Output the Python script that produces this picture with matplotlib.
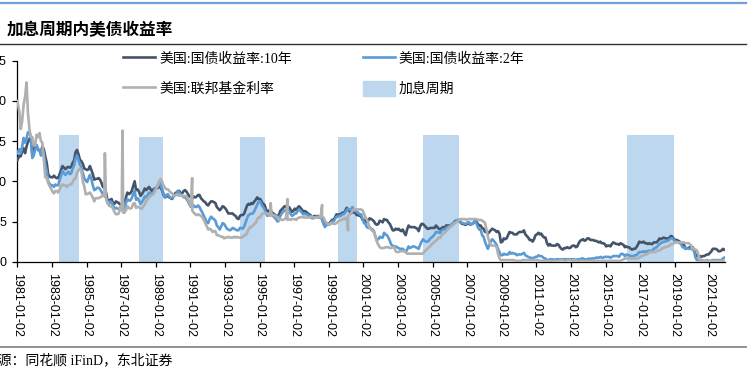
import pandas as pd
import matplotlib
matplotlib.use('Agg')
import matplotlib.pyplot as plt
import matplotlib.dates as mdates
from matplotlib.patches import Patch
from matplotlib.lines import Line2D

plt.rcParams['font.family'] = ['Noto Sans CJK SC', 'DejaVu Sans']

# monthly readings, 1981-01 .. 2021-11 (one row per year)
ust10y = [
    12.6, 13.2, 13.1, 13.7, 14.1, 13.5, 14.3, 14.9, 15.3, 15.2, 13.4, 13.7,  # 1981
    14.6, 14.4, 13.9, 13.9, 13.6, 14.3, 14.0, 13.1, 12.3, 10.9, 10.6, 10.5,  # 1982
    10.5, 10.7, 10.5, 10.4, 10.4, 10.9, 11.4, 11.9, 11.7, 11.5, 11.7, 11.8,  # 1983
    11.7, 11.8, 12.3, 12.6, 13.6, 13.9, 13.4, 12.7, 12.5, 12.2, 11.6, 11.5,  # 1984
    11.4, 11.5, 11.9, 11.4, 10.9, 10.2, 10.3, 10.3, 10.4, 10.2, 9.8, 9.3,  # 1985
    9.2, 8.7, 7.8, 7.3, 7.7, 7.8, 7.3, 7.2, 7.5, 7.4, 7.3, 7.1,  # 1986
    7.1, 7.3, 7.3, 8.0, 8.6, 8.4, 8.5, 8.8, 9.4, 10.0, 8.9, 9.0,  # 1987
    8.7, 8.2, 8.4, 8.7, 9.1, 8.9, 9.1, 9.3, 9.0, 8.8, 9.0, 9.1,  # 1988
    9.1, 9.2, 9.4, 9.2, 8.9, 8.3, 8.0, 8.1, 8.2, 8.0, 7.9, 7.8,  # 1989
    8.2, 8.5, 8.6, 8.8, 8.8, 8.5, 8.5, 8.8, 8.9, 8.7, 8.4, 8.1,  # 1990
    8.1, 7.9, 8.1, 8.0, 8.1, 8.3, 8.3, 7.9, 7.7, 7.5, 7.4, 7.1,  # 1991
    7.0, 7.3, 7.5, 7.5, 7.4, 7.3, 6.8, 6.6, 6.4, 6.6, 6.9, 6.8,  # 1992
    6.6, 6.3, 6.0, 6.0, 6.0, 6.0, 5.8, 5.7, 5.4, 5.3, 5.7, 5.8,  # 1993
    5.8, 6.0, 6.5, 7.0, 7.2, 7.1, 7.3, 7.2, 7.5, 7.7, 8.0, 7.8,  # 1994
    7.8, 7.5, 7.2, 7.1, 6.6, 6.2, 6.3, 6.5, 6.2, 6.0, 5.9, 5.7,  # 1995
    5.7, 5.8, 6.3, 6.5, 6.7, 6.9, 6.9, 6.6, 6.8, 6.5, 6.2, 6.3,  # 1996
    6.6, 6.4, 6.7, 6.9, 6.7, 6.5, 6.2, 6.3, 6.2, 6.0, 5.9, 5.8,  # 1997
    5.5, 5.6, 5.7, 5.6, 5.7, 5.5, 5.5, 5.3, 4.8, 4.5, 4.8, 4.7,  # 1998
    4.7, 5.0, 5.2, 5.2, 5.5, 5.9, 5.8, 5.9, 5.9, 6.1, 6.0, 6.3,  # 1999
    6.7, 6.5, 6.3, 6.0, 6.4, 6.1, 6.1, 5.8, 5.8, 5.7, 5.7, 5.2,  # 2000
    5.2, 5.1, 4.9, 5.1, 5.4, 5.3, 5.2, 5.0, 4.7, 4.6, 4.7, 5.1,  # 2001
    5.0, 4.9, 5.3, 5.2, 5.2, 4.9, 4.7, 4.3, 3.9, 3.9, 4.1, 4.0,  # 2002
    4.1, 3.9, 3.8, 4.0, 3.6, 3.3, 4.0, 4.5, 4.3, 4.3, 4.3, 4.3,  # 2003
    4.2, 4.1, 3.8, 4.4, 4.7, 4.7, 4.5, 4.3, 4.1, 4.1, 4.2, 4.2,  # 2004
    4.2, 4.2, 4.5, 4.3, 4.1, 4.0, 4.2, 4.3, 4.2, 4.5, 4.5, 4.5,  # 2005
    4.4, 4.6, 4.7, 5.0, 5.1, 5.1, 5.1, 4.9, 4.7, 4.7, 4.6, 4.6,  # 2006
    4.8, 4.7, 4.6, 4.7, 4.8, 5.1, 5.0, 4.7, 4.5, 4.5, 4.2, 4.1,  # 2007
    3.7, 3.7, 3.5, 3.7, 3.9, 4.1, 4.0, 3.9, 3.7, 3.8, 3.5, 2.4,  # 2008
    2.5, 2.9, 2.8, 2.9, 3.3, 3.7, 3.6, 3.6, 3.4, 3.4, 3.4, 3.6,  # 2009
    3.7, 3.7, 3.7, 3.9, 3.4, 3.2, 3.0, 2.7, 2.7, 2.5, 2.8, 3.3,  # 2010
    3.4, 3.6, 3.4, 3.5, 3.2, 3.0, 3.0, 2.3, 2.0, 2.2, 2.0, 2.0,  # 2011
    2.0, 2.0, 2.2, 2.1, 1.8, 1.6, 1.5, 1.7, 1.7, 1.8, 1.7, 1.7,  # 2012
    1.9, 2.0, 2.0, 1.8, 1.9, 2.3, 2.6, 2.7, 2.8, 2.6, 2.7, 2.9,  # 2013
    2.9, 2.7, 2.7, 2.7, 2.6, 2.6, 2.5, 2.4, 2.5, 2.3, 2.3, 2.2,  # 2014
    1.9, 2.0, 2.0, 1.9, 2.2, 2.4, 2.3, 2.2, 2.2, 2.1, 2.3, 2.2,  # 2015
    2.1, 1.8, 1.9, 1.8, 1.8, 1.6, 1.5, 1.6, 1.6, 1.8, 2.1, 2.5,  # 2016
    2.4, 2.4, 2.5, 2.3, 2.3, 2.2, 2.3, 2.2, 2.2, 2.4, 2.4, 2.4,  # 2017
    2.6, 2.9, 2.8, 2.9, 3.0, 2.9, 2.9, 2.9, 3.0, 3.2, 3.1, 2.8,  # 2018
    2.7, 2.7, 2.6, 2.5, 2.4, 2.1, 2.1, 1.6, 1.7, 1.7, 1.8, 1.9,  # 2019
    1.8, 1.5, 0.9, 0.7, 0.7, 0.7, 0.6, 0.7, 0.7, 0.8, 0.9, 0.9,  # 2020
    1.1, 1.3, 1.6, 1.6, 1.6, 1.5, 1.3, 1.3, 1.4, 1.6, 1.5,  # 2021
]

ust2y = [
    13.5, 14.0, 13.5, 14.3, 15.4, 14.8, 15.3, 16.1, 16.2, 15.4, 12.9, 13.2,  # 1981
    14.0, 14.5, 13.9, 13.9, 13.2, 14.0, 13.4, 12.0, 11.3, 10.0, 9.7, 9.5,  # 1982
    9.5, 9.3, 9.6, 9.5, 9.5, 10.2, 10.7, 11.3, 11.0, 10.8, 11.0, 11.2,  # 1983
    10.9, 11.0, 11.6, 12.0, 12.8, 13.2, 12.7, 12.1, 11.7, 11.1, 10.4, 10.1,  # 1984
    9.9, 10.4, 10.8, 10.3, 9.5, 8.9, 9.0, 9.2, 9.2, 9.0, 8.7, 8.4,  # 1985
    8.4, 8.1, 7.4, 7.1, 7.5, 7.4, 7.0, 6.6, 6.7, 6.6, 6.6, 6.6,  # 1986
    6.4, 6.5, 6.5, 7.3, 7.8, 7.6, 7.6, 7.9, 8.4, 8.8, 7.7, 7.9,  # 1987
    7.6, 7.2, 7.4, 7.7, 8.1, 8.0, 8.3, 8.6, 8.5, 8.4, 8.6, 9.0,  # 1988
    9.2, 9.5, 9.9, 9.5, 9.1, 8.5, 8.0, 8.3, 8.4, 8.1, 7.9, 7.9,  # 1989
    8.1, 8.3, 8.5, 8.8, 8.6, 8.3, 8.2, 8.0, 8.0, 7.8, 7.5, 7.1,  # 1990
    6.8, 6.8, 7.0, 6.8, 6.8, 7.0, 6.8, 6.4, 6.1, 5.7, 5.3, 4.9,  # 1991
    4.8, 5.3, 5.6, 5.4, 5.3, 5.1, 4.5, 4.3, 4.0, 4.4, 4.8, 4.7,  # 1992
    4.4, 4.1, 4.0, 3.9, 4.0, 4.2, 4.1, 4.0, 3.9, 3.9, 4.2, 4.2,  # 1993
    4.1, 4.4, 4.9, 5.4, 5.8, 5.9, 6.0, 6.0, 6.3, 6.7, 7.1, 7.5,  # 1994
    7.5, 7.1, 6.8, 6.6, 6.1, 5.7, 5.8, 6.0, 5.8, 5.7, 5.5, 5.3,  # 1995
    5.0, 5.1, 5.7, 6.0, 6.2, 6.4, 6.5, 6.2, 6.3, 6.0, 5.7, 5.8,  # 1996
    6.0, 6.0, 6.3, 6.5, 6.3, 6.1, 5.9, 5.9, 5.9, 5.8, 5.7, 5.7,  # 1997
    5.4, 5.4, 5.5, 5.6, 5.6, 5.5, 5.5, 5.3, 4.7, 4.3, 4.6, 4.6,  # 1998
    4.6, 4.8, 5.0, 5.0, 5.3, 5.6, 5.6, 5.7, 5.7, 5.9, 5.9, 6.1,  # 1999
    6.4, 6.6, 6.5, 6.4, 6.8, 6.5, 6.3, 6.2, 6.1, 5.9, 5.9, 5.4,  # 2000
    4.8, 4.7, 4.3, 4.2, 4.3, 4.1, 4.0, 3.8, 3.1, 2.7, 2.8, 3.1,  # 2001
    3.0, 3.0, 3.6, 3.4, 3.3, 3.0, 2.6, 2.1, 2.0, 1.9, 1.9, 1.8,  # 2002
    1.7, 1.6, 1.6, 1.6, 1.4, 1.2, 1.5, 1.9, 1.7, 1.8, 1.9, 1.9,  # 2003
    1.8, 1.7, 1.6, 2.1, 2.5, 2.8, 2.6, 2.5, 2.5, 2.6, 2.9, 3.0,  # 2004
    3.2, 3.4, 3.7, 3.7, 3.6, 3.6, 3.9, 4.0, 4.0, 4.2, 4.3, 4.4,  # 2005
    4.5, 4.7, 4.8, 4.9, 5.0, 5.2, 5.2, 5.0, 4.8, 4.8, 4.7, 4.7,  # 2006
    4.9, 4.9, 4.6, 4.7, 4.8, 5.0, 4.8, 4.3, 4.0, 4.0, 3.3, 3.1,  # 2007
    2.5, 2.0, 1.6, 2.1, 2.5, 2.8, 2.6, 2.4, 2.1, 1.6, 1.2, 0.8,  # 2008
    0.8, 1.0, 0.9, 0.9, 0.9, 1.2, 1.0, 1.1, 1.0, 1.0, 0.8, 0.9,  # 2009
    0.9, 0.9, 1.0, 1.1, 0.8, 0.7, 0.6, 0.5, 0.5, 0.4, 0.5, 0.6,  # 2010
    0.6, 0.8, 0.7, 0.7, 0.6, 0.4, 0.4, 0.2, 0.2, 0.3, 0.3, 0.3,  # 2011
    0.2, 0.3, 0.3, 0.3, 0.3, 0.3, 0.3, 0.3, 0.3, 0.3, 0.3, 0.3,  # 2012
    0.3, 0.3, 0.3, 0.2, 0.3, 0.3, 0.3, 0.4, 0.4, 0.3, 0.3, 0.3,  # 2013
    0.4, 0.3, 0.4, 0.4, 0.4, 0.5, 0.5, 0.5, 0.6, 0.5, 0.5, 0.6,  # 2014
    0.6, 0.6, 0.6, 0.5, 0.6, 0.7, 0.7, 0.7, 0.7, 0.6, 0.9, 1.0,  # 2015
    0.9, 0.7, 0.9, 0.8, 0.8, 0.7, 0.7, 0.7, 0.8, 0.8, 1.0, 1.2,  # 2016
    1.2, 1.2, 1.3, 1.2, 1.3, 1.3, 1.4, 1.3, 1.4, 1.6, 1.7, 1.8,  # 2017
    2.0, 2.2, 2.3, 2.4, 2.5, 2.5, 2.6, 2.6, 2.8, 2.9, 2.9, 2.7,  # 2018
    2.5, 2.5, 2.4, 2.3, 2.2, 1.8, 1.8, 1.6, 1.7, 1.6, 1.6, 1.6,  # 2019
    1.5, 1.3, 0.5, 0.2, 0.2, 0.2, 0.2, 0.1, 0.1, 0.1, 0.2, 0.1,  # 2020
    0.1, 0.1, 0.2, 0.2, 0.2, 0.2, 0.2, 0.2, 0.2, 0.4, 0.5,  # 2021
]

fed_funds = [
    20.0, 18.6, 16.5, 17.5, 19.5, 20.5, 22.3, 18.5, 16.5, 15.5, 15.5, 14.5,  # 1981
    14.5, 15.8, 15.5, 16.0, 15.0, 14.8, 12.8, 10.5, 10.5, 9.8, 9.4, 9.1,  # 1982
    8.7, 8.5, 8.8, 8.8, 8.6, 9.0, 9.4, 9.6, 9.5, 9.5, 9.3, 9.5,  # 1983
    9.6, 9.6, 9.9, 10.3, 10.3, 11.1, 11.3, 11.6, 11.3, 10.0, 9.4, 8.4,  # 1984
    8.4, 8.5, 8.6, 8.3, 8.0, 7.5, 7.9, 7.9, 7.9, 8.0, 8.1, 8.3,  # 1985
    8.1, 7.9, 7.5, 7.0, 6.9, 6.9, 6.6, 6.2, 5.9, 5.9, 6.0, 6.9,  # 1986
    6.4, 6.1, 6.1, 6.4, 6.9, 6.7, 6.6, 6.7, 7.2, 7.3, 6.7, 6.8,  # 1987
    6.8, 6.6, 6.6, 6.9, 7.1, 7.5, 7.8, 8.0, 8.2, 8.3, 8.4, 8.8,  # 1988
    9.1, 9.4, 10.0, 10.3, 10.0, 9.5, 9.2, 9.0, 9.0, 8.8, 8.6, 8.5,  # 1989
    8.2, 8.2, 8.3, 8.3, 8.2, 8.3, 8.2, 8.1, 8.2, 8.1, 7.8, 7.3,  # 1990
    6.9, 6.3, 6.1, 5.9, 5.8, 5.9, 5.8, 5.7, 5.5, 5.2, 4.8, 4.4,  # 1991
    4.0, 4.1, 4.0, 3.7, 3.8, 3.8, 3.3, 3.3, 3.2, 3.1, 3.1, 2.9,  # 1992
    3.0, 3.0, 3.1, 3.0, 3.0, 3.0, 3.1, 3.0, 3.1, 3.0, 3.0, 3.0,  # 1993
    3.1, 3.3, 3.3, 3.6, 4.0, 4.3, 4.3, 4.5, 4.7, 4.8, 5.3, 5.5,  # 1994
    5.5, 5.9, 6.0, 6.1, 6.0, 6.0, 5.9, 5.7, 5.8, 5.8, 5.8, 5.6,  # 1995
    5.6, 5.2, 5.3, 5.2, 5.2, 5.3, 5.4, 5.2, 5.3, 5.2, 5.3, 5.3,  # 1996
    5.3, 5.2, 5.4, 5.5, 5.5, 5.6, 5.5, 5.5, 5.5, 5.5, 5.5, 5.5,  # 1997
    5.6, 5.5, 5.5, 5.5, 5.5, 5.6, 5.5, 5.6, 5.5, 5.1, 4.8, 4.7,  # 1998
    4.6, 4.8, 4.8, 4.7, 4.7, 4.8, 5.0, 5.1, 5.2, 5.2, 5.4, 5.3,  # 1999
    5.5, 5.7, 5.9, 6.0, 6.3, 6.5, 6.5, 6.5, 6.5, 6.5, 6.5, 6.4,  # 2000
    6.0, 5.5, 5.3, 4.8, 4.2, 4.0, 3.8, 3.7, 3.1, 2.5, 2.1, 1.8,  # 2001
    1.7, 1.7, 1.7, 1.8, 1.8, 1.8, 1.7, 1.7, 1.8, 1.8, 1.3, 1.2,  # 2002
    1.2, 1.3, 1.3, 1.3, 1.3, 1.2, 1.0, 1.0, 1.0, 1.0, 1.0, 1.0,  # 2003
    1.0, 1.0, 1.0, 1.0, 1.0, 1.0, 1.3, 1.4, 1.6, 1.8, 1.9, 2.2,  # 2004
    2.3, 2.5, 2.6, 2.8, 3.0, 3.0, 3.3, 3.5, 3.6, 3.8, 4.0, 4.2,  # 2005
    4.3, 4.5, 4.6, 4.8, 4.9, 5.0, 5.2, 5.3, 5.3, 5.3, 5.3, 5.2,  # 2006
    5.3, 5.3, 5.3, 5.3, 5.3, 5.3, 5.3, 5.2, 5.2, 5.2, 5.1, 5.0,  # 2007
    4.8, 4.0, 3.1, 2.5, 2.1, 2.0, 2.0, 2.0, 1.8, 1.0, 0.4, 0.2,  # 2008
    0.2, 0.2, 0.2, 0.2, 0.2, 0.2, 0.2, 0.2, 0.2, 0.1, 0.1, 0.1,  # 2009
    0.1, 0.1, 0.2, 0.2, 0.2, 0.2, 0.2, 0.2, 0.2, 0.2, 0.2, 0.2,  # 2010
    0.2, 0.2, 0.1, 0.1, 0.1, 0.1, 0.1, 0.1, 0.1, 0.1, 0.1, 0.1,  # 2011
    0.1, 0.1, 0.1, 0.1, 0.2, 0.2, 0.2, 0.1, 0.1, 0.2, 0.2, 0.2,  # 2012
    0.1, 0.2, 0.1, 0.2, 0.1, 0.1, 0.1, 0.1, 0.1, 0.1, 0.1, 0.1,  # 2013
    0.1, 0.1, 0.1, 0.1, 0.1, 0.1, 0.1, 0.1, 0.1, 0.1, 0.1, 0.1,  # 2014
    0.1, 0.1, 0.1, 0.1, 0.1, 0.1, 0.1, 0.1, 0.1, 0.1, 0.1, 0.2,  # 2015
    0.3, 0.4, 0.4, 0.4, 0.4, 0.4, 0.4, 0.4, 0.4, 0.4, 0.4, 0.5,  # 2016
    0.7, 0.7, 0.8, 0.9, 0.9, 1.0, 1.2, 1.2, 1.2, 1.2, 1.2, 1.3,  # 2017
    1.4, 1.4, 1.5, 1.7, 1.7, 1.8, 1.9, 1.9, 2.0, 2.2, 2.2, 2.3,  # 2018
    2.4, 2.4, 2.4, 2.4, 2.4, 2.4, 2.4, 2.3, 2.3, 2.3, 2.2, 2.0,  # 2019
    1.6, 1.6, 1.5, 1.4, 0.9, 0.1, 0.1, 0.1, 0.1, 0.1, 0.1, 0.1,  # 2020
    0.1, 0.1, 0.1, 0.1, 0.1, 0.1, 0.1, 0.1, 0.1, 0.1, 0.1,  # 2021
]

# single-day jumps in the fed funds line
ff_spike_dates = ['1986-01-25', '1987-02-01', '1991-02-10', '1995-08-25',
                  '1996-08-15', '1998-08-15', '2000-02-15']
ff_spike_vals = [13.5, 16.3, 10.4, 7.3, 7.8, 7.05, 3.9]

# rate hike periods
hike_start = ['1983-05-25', '1988-01-10', '1993-11-15', '1999-07-10', '2004-06-15', '2016-04-05']
hike_end = ['1984-07-25', '1989-06-15', '1995-04-20', '2000-08-25', '2006-07-15', '2018-12-10']
hike_top = [15.7, 15.55, 15.5, 15.55, 15.75, 15.75]

tick_years = list(range(1981, 2022, 2))

W, H = 752, 367
fig = plt.figure(figsize=(W / 100, H / 100), dpi=100)
ax = fig.add_axes([17.3 / W, 1 - 261.7 / H, (725 - 17.3) / W, (261.7 - 60.7) / H])

dates = pd.date_range('1981-01-01', periods=len(ust10y), freq='MS') + pd.Timedelta(days=14)
dates = dates.insert(0, pd.Timestamp('1981-01-02')).delete(1)

ff = pd.Series(fed_funds, index=dates)
ff = pd.concat([ff, pd.Series(ff_spike_vals, index=pd.to_datetime(ff_spike_dates))]).sort_index()

s = mdates.date2num(pd.to_datetime(hike_start))
e = mdates.date2num(pd.to_datetime(hike_end))
bars = ax.bar(s, hike_top, width=e - s, align='edge', color='#bdd7ee', zorder=1)

l10, = ax.plot(dates, ust10y, color='#44546a', lw=1.9, zorder=3)
l2, = ax.plot(dates, ust2y, color='#5b9bd5', lw=1.9, zorder=4)
lff, = ax.plot(ff.index, ff.values, color='#b0b0b0', lw=1.9, zorder=5)

ax.set_ylim(0, 25)
ax.set_yticks(range(0, 26, 5))
ax.set_xlim(pd.Timestamp('1981-01-02'), pd.Timestamp('2021-11-28'))
ax.set_xticks([pd.Timestamp('%d-01-02' % y) for y in tick_years])
ax.xaxis.set_major_formatter(mdates.DateFormatter('%Y-%m-%d'))
for sp in ['top', 'right']:
    ax.spines[sp].set_visible(False)
for sp in ['left', 'bottom']:
    ax.spines[sp].set_linewidth(0.9)
ax.tick_params(axis='both', labelsize=9, length=3.5, width=0.9, pad=4.5)
for lab in ax.get_xticklabels():
    lab.set_rotation(-90)
    lab.set_family('Liberation Sans')
for lab in ax.get_yticklabels():
    lab.set_family('Liberation Sans')

serif_cjk = ['Liberation Serif', 'Noto Sans CJK SC']
fig.legend([l10, lff, l2, Patch(color='#bdd7ee')],
           ['美国:国债收益率:10年', '美国:联邦基金利率', '美国:国债收益率:2年', '加息周期'],
           loc='upper left', bbox_to_anchor=(123 / W, 1 - 50.5 / H), ncol=2,
           frameon=False, prop={'family': serif_cjk, 'size': 10},
           handlelength=2.3, handleheight=1.3, handletextpad=0.3,
           columnspacing=5.1, labelspacing=1.1, borderpad=0, borderaxespad=0)

# header and footer rules
fig.add_artist(Line2D([0, 0.992], [1 - 3 / H] * 2, transform=fig.transFigure, color='#6fa0d8', lw=1.6))
fig.add_artist(Line2D([0, 0.992], [1 - 43.5 / H] * 2, transform=fig.transFigure, color='#303030', lw=1.0))
fig.add_artist(Line2D([0, 0.992], [1 - 347 / H] * 2, transform=fig.transFigure, color='#8a8a8a', lw=1.3))

fig.text(7 / W, 1 - 30 / H, '加息周期内美债收益率', fontsize=12, fontweight='bold',
         ha='left', va='center')

# source line, left part falls outside the picture
fig.canvas.draw()
probe = fig.text(0, 0, '数据来', family=serif_cjk, fontsize=10)
w = probe.get_window_extent(fig.canvas.get_renderer()).width
probe.remove()
fig.text((-2 - w) / W, 1 - 360 / H, '数据来源：同花顺 iFinD，东北证券',
         family=serif_cjk, fontsize=10, ha='left', va='center')

fig.savefig('out.png', dpi=100)
